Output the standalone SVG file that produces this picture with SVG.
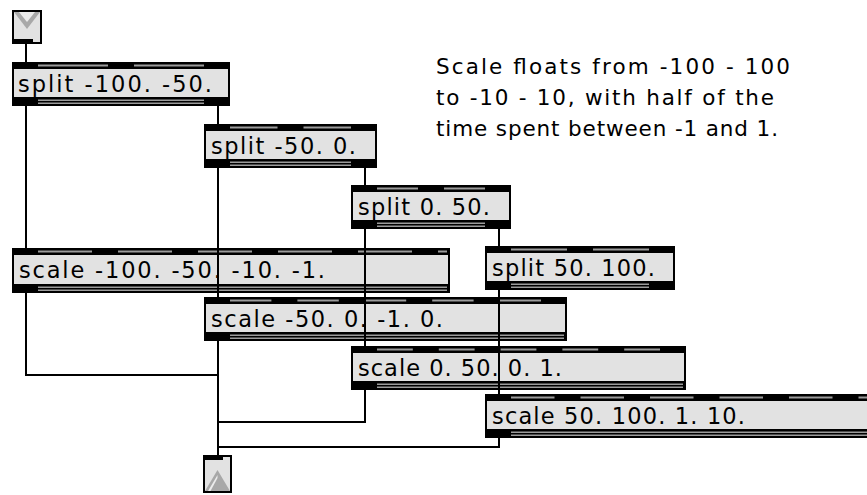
<svg xmlns="http://www.w3.org/2000/svg" width="867" height="495" viewBox="0 0 867 495">
<style>
.body{fill:#e2e2e2;stroke:#000;stroke-width:2}
.band{fill:#000}
.st{fill:#9c9c9c}
.t{font-family:"DejaVu Sans","Liberation Sans",sans-serif;font-size:22.5px;fill:#000}
.cm{font-family:"DejaVu Sans","Liberation Sans",sans-serif;font-size:21.5px;fill:#000}
.c{stroke:#000;stroke-width:2;fill:none}
.ico{fill:#a8a8a8}
.hi{fill:#ececec}
</style>
<rect width="867" height="495" fill="#fff"/>
<g id="inlet">
<rect class="body" x="13" y="11" width="28" height="32"/>
<polygon class="ico" points="14,12 40,12 27,29"/>
<polygon class="hi" points="19,12 35,12 27,22"/>
<rect class="band" x="12" y="39" width="21" height="5"/>
</g>
<g id="split1">
<rect class="body" x="13" y="63" width="216" height="42"/>
<rect class="band" x="12" y="62" width="218" height="7"/>
<rect class="st" x="38" y="64.5" width="70" height="2"/><rect class="st" x="134" y="64.5" width="70" height="2"/>
<rect class="band" x="12" y="97" width="218" height="9"/>
<rect class="st" x="38" y="99.5" width="166" height="1.5"/><rect class="st" x="38" y="102.5" width="166" height="1.5"/>
<text class="t" x="18" y="92" textLength="194" lengthAdjust="spacing">split -100. -50.</text>
</g>
<g id="split2">
<rect class="body" x="205" y="125" width="171" height="42"/>
<rect class="band" x="204" y="124" width="173" height="7"/>
<rect class="st" x="230" y="126.5" width="47.5" height="2"/><rect class="st" x="303.5" y="126.5" width="47.5" height="2"/>
<rect class="band" x="204" y="159" width="173" height="9"/>
<rect class="st" x="230" y="161.5" width="121" height="1.5"/><rect class="st" x="230" y="164.5" width="121" height="1.5"/>
<text class="t" x="211" y="154" textLength="145" lengthAdjust="spacing">split -50. 0.</text>
</g>
<g id="split3">
<rect class="body" x="352" y="186" width="158" height="42"/>
<rect class="band" x="351" y="185" width="160" height="7"/>
<rect class="st" x="377" y="187.5" width="41" height="2"/><rect class="st" x="444" y="187.5" width="41" height="2"/>
<rect class="band" x="351" y="220" width="160" height="9"/>
<rect class="st" x="377" y="222.5" width="108" height="1.5"/><rect class="st" x="377" y="225.5" width="108" height="1.5"/>
<text class="t" x="358" y="215" textLength="132" lengthAdjust="spacing">split 0. 50.</text>
</g>
<g id="split4">
<rect class="body" x="486" y="247" width="188" height="42"/>
<rect class="band" x="485" y="246" width="190" height="7"/>
<rect class="st" x="511" y="248.5" width="56" height="2"/><rect class="st" x="593" y="248.5" width="56" height="2"/>
<rect class="band" x="485" y="281" width="190" height="9"/>
<rect class="st" x="511" y="283.5" width="138" height="1.5"/><rect class="st" x="511" y="286.5" width="138" height="1.5"/>
<text class="t" x="492" y="276" textLength="163" lengthAdjust="spacing">split 50. 100.</text>
</g>
<g id="scale1">
<rect class="body" x="13" y="249" width="436" height="43"/>
<rect class="band" x="12" y="248" width="438" height="7"/>
<rect class="st" x="38" y="250.5" width="54" height="2"/><rect class="st" x="118" y="250.5" width="54" height="2"/><rect class="st" x="198" y="250.5" width="54" height="2"/><rect class="st" x="278" y="250.5" width="54" height="2"/><rect class="st" x="358" y="250.5" width="54" height="2"/><rect class="st" x="438" y="250.5" width="9" height="2"/>
<rect class="band" x="12" y="284" width="438" height="9"/>
<rect class="st" x="38" y="286.5" width="409" height="1.5"/><rect class="st" x="38" y="289.5" width="409" height="1.5"/>
<text class="t" x="19" y="278" textLength="306" lengthAdjust="spacing">scale -100. -50. -10. -1.</text>
</g>
<g id="scale2">
<rect class="body" x="205" y="298" width="361" height="42"/>
<rect class="band" x="204" y="297" width="363" height="7"/>
<rect class="st" x="230" y="299.5" width="41.4" height="2"/><rect class="st" x="297.4" y="299.5" width="41.4" height="2"/><rect class="st" x="364.8" y="299.5" width="41.4" height="2"/><rect class="st" x="432.2" y="299.5" width="41.4" height="2"/><rect class="st" x="499.6" y="299.5" width="41.4" height="2"/>
<rect class="band" x="204" y="332" width="363" height="9"/>
<rect class="st" x="230" y="334.5" width="334" height="1.5"/><rect class="st" x="230" y="337.5" width="334" height="1.5"/>
<text class="t" x="211" y="327" textLength="232" lengthAdjust="spacing">scale -50. 0. -1. 0.</text>
</g>
<g id="scale3">
<rect class="body" x="352" y="347" width="333" height="42"/>
<rect class="band" x="351" y="346" width="335" height="7"/>
<rect class="st" x="377" y="348.5" width="35.8" height="2"/><rect class="st" x="438.8" y="348.5" width="35.8" height="2"/><rect class="st" x="500.6" y="348.5" width="35.8" height="2"/><rect class="st" x="562.4" y="348.5" width="35.8" height="2"/><rect class="st" x="624.2" y="348.5" width="35.8" height="2"/>
<rect class="band" x="351" y="381" width="335" height="9"/>
<rect class="st" x="377" y="383.5" width="306" height="1.5"/><rect class="st" x="377" y="386.5" width="306" height="1.5"/>
<text class="t" x="358" y="376" textLength="204" lengthAdjust="spacing">scale 0. 50. 0. 1.</text>
</g>
<g id="scale4">
<rect class="body" x="486" y="395" width="400" height="42"/>
<rect class="band" x="485" y="394" width="402" height="7"/>
<rect class="st" x="511" y="396.5" width="43.5" height="2"/><rect class="st" x="580.5" y="396.5" width="43.5" height="2"/><rect class="st" x="650" y="396.5" width="43.5" height="2"/><rect class="st" x="719.5" y="396.5" width="43.5" height="2"/><rect class="st" x="789" y="396.5" width="43.5" height="2"/><rect class="st" x="858.5" y="396.5" width="20" height="2"/>
<rect class="band" x="485" y="429" width="402" height="9"/>
<rect class="st" x="511" y="431.5" width="370" height="1.5"/><rect class="st" x="511" y="434.5" width="370" height="1.5"/>
<text class="t" x="492" y="424" textLength="253" lengthAdjust="spacing">scale 50. 100. 1. 10.</text>
</g>
<g id="outlet">
<rect class="body" x="204" y="456" width="27" height="36"/>
<polygon class="ico" points="205,491 217.5,470 230,491"/>
<polygon class="hi" points="208,491 217.5,475 217.5,478 210.5,491"/>
<rect class="band" x="203" y="455" width="20" height="5"/>
</g>
<g id="comment">
<text class="cm" x="436" y="74" textLength="354" lengthAdjust="spacing">Scale floats from -100 - 100</text>
<text class="cm" x="436" y="105" textLength="338" lengthAdjust="spacing">to -10 - 10, with half of the</text>
<text class="cm" x="436" y="136" textLength="342" lengthAdjust="spacing">time spent between -1 and 1.</text>
</g>
<g id="connectors">
<path class="c" d="M26 44V62"/>
<path class="c" d="M26 106V248"/>
<path class="c" d="M218 106V124"/>
<path class="c" d="M218 168V297"/>
<path class="c" d="M365 168V185"/>
<path class="c" d="M365 229V346"/>
<path class="c" d="M499 229V246"/>
<path class="c" d="M499 290V394"/>
<path class="c" d="M26 293V375H218"/>
<path class="c" d="M218 341V455"/>
<path class="c" d="M365 390V422H218"/>
<path class="c" d="M499 438V447H218"/>
</g>
</svg>
